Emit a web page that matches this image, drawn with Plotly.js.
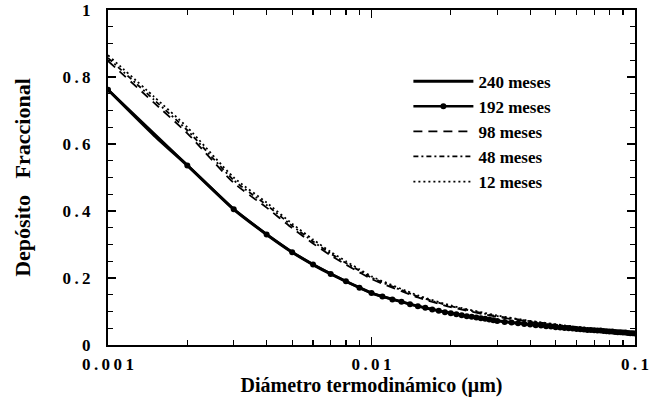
<!DOCTYPE html>
<html>
<head>
<meta charset="utf-8">
<script src="https://cdn.plot.ly/plotly-3.0.1.min.js"></script>
<style>html,body{margin:0;padding:0;background:#fff;}</style>
</head>
<body>
<div id="chart" style="width:650px;height:405px;"></div>
<script>
// Series sampled on a common set of diameters (µm)
const diam = [0.001,0.0015,0.002,0.003,0.004,0.005,0.006,0.007,0.008,0.009,0.01,0.015,0.02,0.03,0.04,0.05,0.06,0.07,0.08,0.09,0.1];
const m240 = [0.762,0.625,0.536,0.405,0.330,0.277,0.240,0.212,0.190,0.171,0.155,0.116,0.095,0.072,0.061,0.053,0.048,0.044,0.040,0.037,0.034];
const m98  = [0.848,0.722,0.632,0.484,0.410,0.349,0.303,0.267,0.240,0.217,0.197,0.142,0.113,0.084,0.069,0.059,0.052,0.046,0.042,0.038,0.035];
const m48  = [0.857,0.731,0.641,0.492,0.418,0.356,0.309,0.273,0.245,0.222,0.201,0.145,0.116,0.086,0.071,0.061,0.053,0.047,0.043,0.039,0.036];
const m12  = [0.865,0.740,0.650,0.500,0.425,0.362,0.315,0.278,0.250,0.226,0.205,0.148,0.118,0.088,0.072,0.062,0.054,0.048,0.043,0.039,0.036];

// 192 meses, drawn with markers at its own sample points
const diam192 = [0.001,0.002,0.003,0.004,0.005,0.006,0.007,0.008,0.009,
  0.010,0.011,0.012,0.013,0.014,0.015,0.016,0.017,0.018,0.019,0.020,
  0.021,0.022,0.023,0.024,0.025,0.026,0.027,0.028,0.029,0.030,
  0.032,0.034,0.036,0.038,0.040,0.042,0.044,0.046,0.048,0.050,
  0.052,0.054,0.056,0.058,0.060,0.062,0.064,0.066,0.068,0.070,
  0.072,0.074,0.076,0.078,0.080,0.082,0.084,0.086,0.088,0.090,
  0.092,0.094,0.096,0.098,0.100];
const m192 = [0.762,0.536,0.405,0.330,0.277,0.240,0.212,0.190,0.171,
  0.155,0.145,0.136,0.129,0.122,0.116,0.111,0.106,0.102,0.098,0.095,
  0.092,0.089,0.086,0.084,0.082,0.080,0.078,0.076,0.074,0.072,
  0.069,0.067,0.065,0.063,0.061,0.059,0.058,0.056,0.055,0.053,
  0.052,0.051,0.050,0.049,0.048,0.047,0.046,0.045,0.045,0.044,
  0.043,0.043,0.042,0.041,0.040,0.040,0.039,0.038,0.038,0.037,
  0.037,0.036,0.035,0.035,0.034];

const names = ['240 meses','192 meses','98 meses','48 meses','12 meses'];
const xTickVals = [0.001,0.01,0.1];
const xTickText = ['0\u2009.\u20090\u20090\u20091','0\u2009.\u20090\u20091','0\u2009.\u20091'];
const xMinorVals = [0.002,0.003,0.004,0.005,0.006,0.007,0.008,0.009,0.02,0.03,0.04,0.05,0.06,0.07,0.08,0.09];
const yTickVals = [0,0.2,0.4,0.6,0.8,1];
const yTickText = ['0','0\u2009.\u20092','0\u2009.\u20094','0\u2009.\u20096','0\u2009.\u20098','1'];

const serif = 'Liberation Serif, Times New Roman, serif';

const traces = [
  {x: diam, y: m240, name: names[0], mode: 'lines', line: {color: '#000', width: 3, shape: 'spline', smoothing: 0.6}},
  {x: diam192, y: m192, name: names[1], mode: 'lines+markers', line: {color: '#000', width: 2.5},
   marker: {symbol: 'circle', size: 6, color: '#000'}},
  {x: diam, y: m98, name: names[2], mode: 'lines', line: {color: '#000', width: 1.8, dash: '9px,6px', shape: 'spline', smoothing: 0.6}},
  {x: diam, y: m48, name: names[3], mode: 'lines', line: {color: '#000', width: 1.8, dash: '5px,3px,2px,3px', shape: 'spline', smoothing: 0.6}},
  {x: diam, y: m12, name: names[4], mode: 'lines', line: {color: '#000', width: 1.8, dash: '2px,3px', shape: 'spline', smoothing: 0.6}}
];

const layout = {
  width: 650, height: 405,
  margin: {l: 108, r: 15, t: 10, b: 60},
  paper_bgcolor: '#fff', plot_bgcolor: '#fff',
  showlegend: true,
  font: {family: serif, color: '#000'},
  xaxis: {
    type: 'log', range: [-3, -1],
    tickmode: 'array', tickvals: xTickVals, ticktext: xTickText,
    ticks: 'inside', ticklen: 8, tickwidth: 1.5, tickcolor: '#000',
    minor: {tickmode: 'array', tickvals: xMinorVals, ticks: 'inside', ticklen: 5, tickwidth: 1.2, tickcolor: '#000', showgrid: false},
    showline: true, linewidth: 2, linecolor: '#000', mirror: 'ticks',
    showgrid: false, zeroline: false,
    ticklabeloverflow: 'allow', ticklabelstandoff: 3,
    tickfont: {family: serif, size: 17, color: '#000', weight: 'bold'},
    title: {text: 'Diámetro termodinámico (μm)', font: {family: serif, size: 20, color: '#000', weight: 'bold'}, standoff: 3}
  },
  yaxis: {
    range: [0, 1],
    tickmode: 'array', tickvals: yTickVals, ticktext: yTickText,
    ticks: 'inside', ticklen: 8, tickwidth: 1.5, tickcolor: '#000',
    minor: {tickmode: 'linear', tick0: 0, dtick: 0.05, ticks: 'inside', ticklen: 5, tickwidth: 1.2, tickcolor: '#000', showgrid: false},
    showline: true, linewidth: 2, linecolor: '#000', mirror: 'ticks',
    showgrid: false, zeroline: false,
    ticklabeloverflow: 'allow', ticklabelstandoff: 12,
    tickfont: {family: serif, size: 17, color: '#000', weight: 'bold'},
    title: {text: 'Depósito&nbsp;&nbsp;&nbsp;Fraccional', font: {family: serif, size: 22, color: '#000', weight: 'bold'}, standoff: 26}
  },
  legend: {
    x: 0.57, y: 0.84, xanchor: 'left', yanchor: 'top',
    bgcolor: 'rgba(0,0,0,0)', borderwidth: 0,
    itemwidth: 60,
    font: {family: serif, size: 17, color: '#000', weight: 'bold'}
  }
};

Plotly.newPlot('chart', traces, layout, {displayModeBar: false, staticPlot: true});
</script>
</body>
</html>
